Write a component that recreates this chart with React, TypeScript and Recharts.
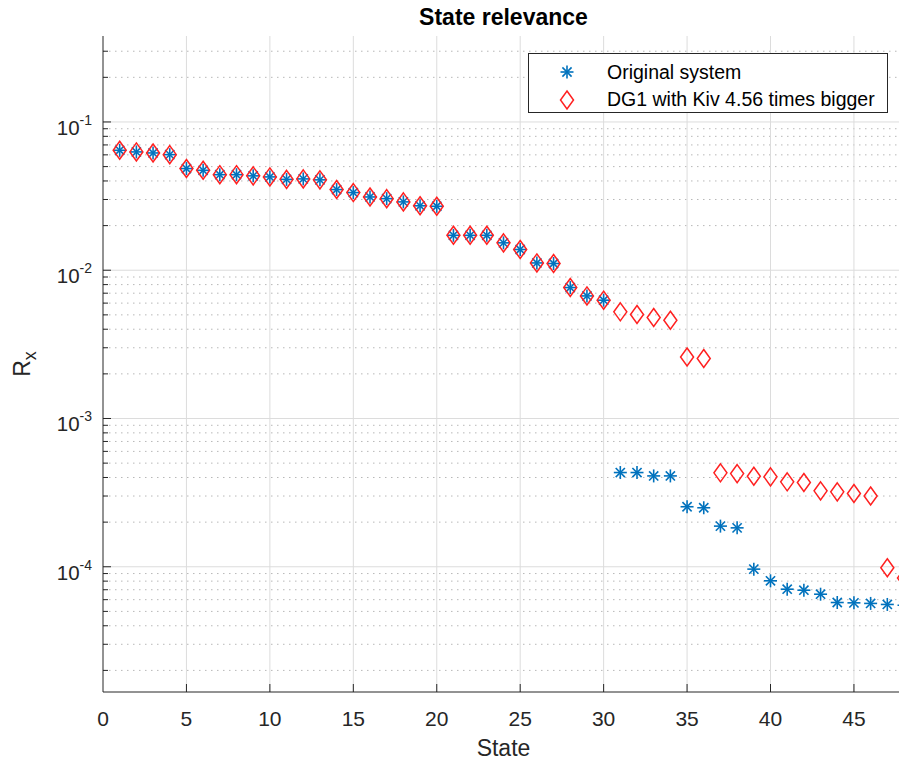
import {Legend, ReferenceLine, Scatter, ScatterChart, XAxis, YAxis} from 'recharts';

const states = [
  1, 2, 3, 4, 5, 6, 7, 8, 9, 10, 11, 12, 13, 14, 15, 16, 17, 18, 19, 20, 21, 22, 23, 24,
  25, 26, 27, 28, 29, 30, 31, 32, 33, 34, 35, 36, 37, 38, 39, 40, 41, 42, 43, 44, 45, 46, 47, 48,
];

const originalSystem = [
  0.0644, 0.0628, 0.0618, 0.0602, 0.0485, 0.0472, 0.0441, 0.0441, 0.0433, 0.0426, 0.041, 0.0413,
  0.0407, 0.035, 0.0334, 0.0312, 0.0304, 0.0289, 0.0272, 0.027, 0.0172, 0.0172, 0.0172, 0.0153,
  0.0138, 0.0112, 0.0111, 0.00764, 0.00671, 0.00628, 4.32e-4, 4.32e-4, 4.1e-4, 4.1e-4, 2.54e-4,
  2.5e-4, 1.88e-4, 1.83e-4, 9.64e-5, 8.04e-5, 7.06e-5, 6.95e-5, 6.53e-5, 5.74e-5, 5.71e-5,
  5.66e-5, 5.57e-5, 5.5e-5,
];

const dg1KivBigger = [
  0.0644, 0.0628, 0.0618, 0.0602, 0.0485, 0.0472, 0.0441, 0.0441, 0.0433, 0.0426, 0.041, 0.0413,
  0.0407, 0.035, 0.0334, 0.0312, 0.0304, 0.0289, 0.0272, 0.027, 0.0172, 0.0172, 0.0172, 0.0153,
  0.0138, 0.0112, 0.0111, 0.00764, 0.00671, 0.00628, 0.00524, 0.00503, 0.0048, 0.0046, 0.0026,
  0.00254, 4.3e-4, 4.25e-4, 4.08e-4, 4.04e-4, 3.74e-4, 3.7e-4, 3.25e-4, 3.2e-4, 3.12e-4, 3.0e-4,
  9.84e-5, 8.4e-5,
];

const xTicks = [0, 5, 10, 15, 20, 25, 30, 35, 40, 45];
const xDomain = [0, 48];
const yDomain = [1.43e-5, 0.38];
const decades = [1e-5, 1e-4, 1e-3, 1e-2, 1e-1];
const steps = [1, 2, 3, 4, 5, 6, 7, 8, 9];

const yTicks = decades
  .flatMap((d) => steps.map((s) => s * d))
  .filter((v) => v >= yDomain[0] && v <= yDomain[1]);
const majorY = yTicks.filter((v) => isDecade(v));
const minorY = yTicks.filter((v) => !isDecade(v));

const originalData = states.map((s, i) => ({state: s, value: originalSystem[i]}));
const dg1Data = states.map((s, i) => ({state: s, value: dg1KivBigger[i]}));

const FONT = '"Liberation Sans", Arial, Helvetica, sans-serif';
const AXIS = '#262626';
const BLUE = '#0072bd';
const RED = '#ff2020';

function isDecade(v: number) {
  const l = Math.log10(v);
  return Math.abs(l - Math.round(l)) < 1e-9;
}

function Star({cx, cy, color = BLUE}: any) {
  const r = 6.5;
  const d = r * 0.7071;
  return (
    <g stroke={color} strokeWidth={1.6}>
      <line x1={cx - r} y1={cy} x2={cx + r} y2={cy} />
      <line x1={cx} y1={cy - r} x2={cx} y2={cy + r} />
      <line x1={cx - d} y1={cy - d} x2={cx + d} y2={cy + d} />
      <line x1={cx - d} y1={cy + d} x2={cx + d} y2={cy - d} />
    </g>
  );
}

function Diamond({cx, cy}: any) {
  const w = 6.5;
  const h = 9;
  return (
    <polygon
      points={`${cx},${cy - h} ${cx + w},${cy} ${cx},${cy + h} ${cx - w},${cy}`}
      fill="none"
      stroke={RED}
      strokeWidth={1.5}
    />
  );
}

function YTick({x, y, payload}: any) {
  const v = payload.value;
  const major = isDecade(v);
  const exp = Math.round(Math.log10(v));
  return (
    <g>
      <line x1={x} x2={x + (major ? 8 : 5)} y1={y} y2={y} stroke={AXIS} />
      {major && (
        <text x={x - 11} y={y + 13} textAnchor="end" fontSize={20.5} fill={AXIS} fontFamily={FONT}>
          10
          <tspan dy={-10} fontSize={14}>
            {exp}
          </tspan>
        </text>
      )}
    </g>
  );
}

function BottomTick({x, y, payload}: any) {
  return (
    <g>
      {payload.value > 0 && <line x1={x} x2={x} y1={y} y2={y - 8} stroke={AXIS} />}
      <text x={x} y={y + 34} textAnchor="middle" fontSize={21} fill={AXIS} fontFamily={FONT}>
        {payload.value}
      </text>
    </g>
  );
}

function TopTick({x, y, payload}: any) {
  if (payload.value <= 0) return <g />;
  return <line x1={x} x2={x} y1={y} y2={y + 8} stroke={AXIS} />;
}

function StateLabel({viewBox}: any) {
  const {x, y, width, height} = viewBox;
  return (
    <text x={x + width / 2} y={y + height - 3} textAnchor="middle" fontSize={23} fill={AXIS} fontFamily={FONT}>
      State
    </text>
  );
}

function RxLabel({viewBox}: any) {
  const cx = viewBox.x + 22;
  const cy = viewBox.y + viewBox.height / 2;
  return (
    <text
      x={cx}
      y={cy}
      transform={`rotate(-90, ${cx}, ${cy})`}
      textAnchor="middle"
      fontSize={23}
      fill={AXIS}
      fontFamily={FONT}
    >
      R
      <tspan dy={6} fontSize={18}>
        x
      </tspan>
    </text>
  );
}

function LegendBox() {
  return (
    <svg width={360} height={60} style={{display: 'block', background: '#fff'}}>
      <rect x={0.5} y={0.5} width={359} height={59} fill="#fff" stroke={AXIS} />
      <Star cx={39} cy={19} />
      <Diamond cx={39} cy={47} />
      <text x={79} y={26} fontSize={19.5} fill="#000" fontFamily={FONT}>
        Original system
      </text>
      <text x={79} y={53} fontSize={19.5} fill="#000" fontFamily={FONT}>
        DG1 with Kiv 4.56 times bigger
      </text>
    </svg>
  );
}

export default function App() {
  return (
    <div
      style={{
        position: 'fixed',
        left: 0,
        top: 0,
        width: 899,
        height: 759,
        padding: 8,
        boxSizing: 'border-box',
        overflow: 'hidden',
        background: '#fff',
      }}
    >
      <ScatterChart width={920} height={751} margin={{top: 28, right: 24, bottom: 0, left: 0}}>
        <text x={495.5} y={17} textAnchor="middle" fontSize={23} fontWeight="bold" fill="#000" fontFamily={FONT}>
          State relevance
        </text>
        <XAxis
          dataKey="state"
          type="number"
          domain={xDomain}
          ticks={xTicks}
          interval={0}
          allowDataOverflow
          height={67}
          tickSize={0}
          tickMargin={0}
          tickLine={false}
          axisLine={{stroke: AXIS}}
          tick={<BottomTick />}
          label={(props: any) => <StateLabel {...props} />}
        />
        <XAxis
          xAxisId="top"
          orientation="top"
          type="number"
          domain={xDomain}
          ticks={xTicks}
          interval={0}
          allowDataOverflow
          height={0}
          tickSize={0}
          tickMargin={0}
          tickLine={false}
          axisLine={{stroke: AXIS}}
          tick={<TopTick />}
        />
        <YAxis
          dataKey="value"
          type="number"
          scale="log"
          domain={yDomain}
          ticks={yTicks}
          interval={0}
          allowDataOverflow
          width={95}
          tickSize={0}
          tickMargin={0}
          tickLine={false}
          axisLine={{stroke: AXIS}}
          tick={<YTick />}
          label={(props: any) => <RxLabel {...props} />}
        />
        {minorY.map((v) => (
          <ReferenceLine key={`m${v}`} y={v} stroke="#b8b8b8" strokeDasharray="1.5 4.5" />
        ))}
        {majorY.map((v) => (
          <ReferenceLine key={`M${v}`} y={v} stroke="#dcdcdc" />
        ))}
        {xTicks
          .filter((v) => v > 0)
          .map((v) => (
            <ReferenceLine key={`x${v}`} x={v} stroke="#dcdcdc" />
          ))}
        <Scatter
          name="Original system"
          data={originalData}
          fill={BLUE}
          isAnimationActive={false}
          shape={(p: any) => <Star cx={p.cx} cy={p.cy} />}
        />
        <Scatter
          name="DG1 with Kiv 4.56 times bigger"
          data={dg1Data}
          fill={RED}
          isAnimationActive={false}
          shape={(p: any) => <Diamond cx={p.cx} cy={p.cy} />}
        />
        <Legend
          layout="vertical"
          align="center"
          verticalAlign="middle"
          wrapperStyle={{position: 'absolute', left: 520, top: 45, width: 360, height: 60}}
          content={() => <LegendBox />}
        />
      </ScatterChart>
    </div>
  );
}
